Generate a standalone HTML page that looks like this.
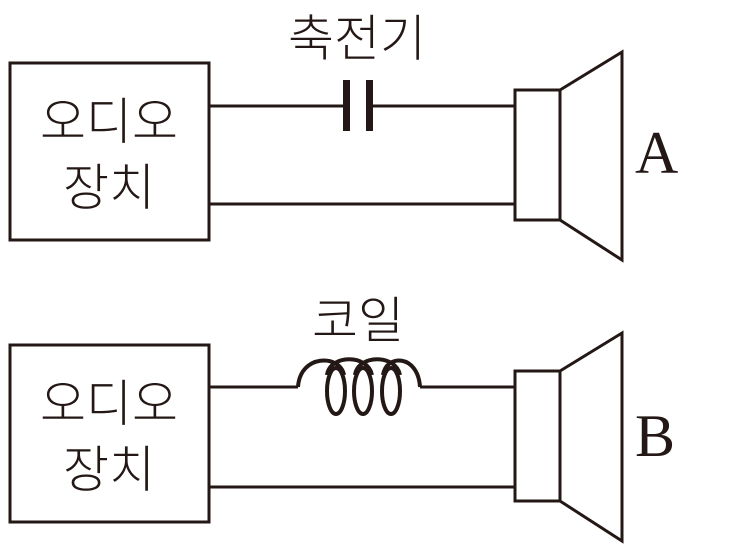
<!DOCTYPE html>
<html><head><meta charset="utf-8"><style>
html,body{margin:0;padding:0;background:#fff;}
svg{display:block;}
.k{font-family:"Liberation Sans","Noto Sans CJK KR",sans-serif;font-size:50px;fill:#231815;font-weight:300;}
.s{font-family:"Liberation Serif",serif;font-size:60px;fill:#231815;}
</style></head><body>
<svg width="735" height="551" viewBox="0 0 735 551" xmlns="http://www.w3.org/2000/svg">
<g fill="none" stroke="#231815" stroke-width="3">
<rect x="10" y="63" width="199" height="177"/>
<path d="M209 106H346M368 106H515M209 204H515"/>
<rect x="515" y="90" width="45" height="130"/>
<path d="M560 90L622 52V260L560 220"/>
<rect x="10" y="345" width="199" height="177"/>
<path d="M209 387H298M420 387H515M209 487H515"/>
<rect x="515" y="371" width="45" height="130"/>
<path d="M560 371L622 333V541L560 501"/>
</g>
<g fill="none" stroke="#231815" stroke-width="4">
<path d="M298 387C300 354 340 354 344 375M327 375C330 354 368 354 372 375M355 375C358 354 396 354 400 375M383 375C386 354 418 354 420 387"/>
<ellipse cx="336" cy="391" rx="9" ry="23"/>
<ellipse cx="363" cy="391" rx="9" ry="23"/>
<ellipse cx="391" cy="391" rx="9" ry="23"/>
</g>
<rect x="343" y="80" width="7" height="51" fill="#231815"/>
<rect x="366" y="80" width="7" height="51" fill="#231815"/>
<text class="k" x="109" y="139" text-anchor="middle">오디오</text>
<text class="k" x="109" y="205" text-anchor="middle">장치</text>
<text class="k" x="109" y="421" text-anchor="middle">오디오</text>
<text class="k" x="109" y="487" text-anchor="middle">장치</text>
<text class="k" x="357" y="56" text-anchor="middle">축전기</text>
<text class="k" x="358" y="338" text-anchor="middle">코일</text>
<text class="s" x="635" y="173">A</text>
<text class="s" x="635" y="456">B</text>
</svg>
</body></html>
